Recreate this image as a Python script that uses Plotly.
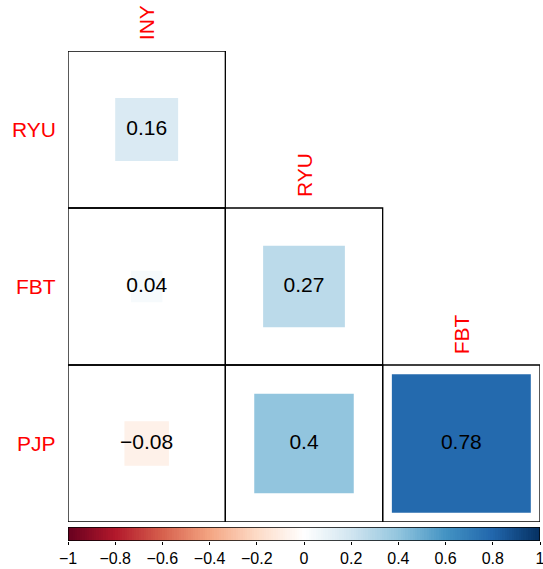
import plotly.graph_objects as go

# Lower-triangle correlation matrix (row variable vs column variable)
row_labels = ["RYU", "FBT", "PJP"]
col_labels = ["INY", "RYU", "FBT"]
corr_rows = [
    [0.16],
    [0.04, 0.27],
    [-0.08, 0.40, 0.78],
]
bar_ticks = [-1, -0.8, -0.6, -0.4, -0.2, 0, 0.2, 0.4, 0.6, 0.8, 1]

# Diverging red-blue palette from -1 to 1
palette = ["#67001F", "#B2182B", "#D6604D", "#F4A582", "#FDDBC7", "#FFFFFF",
           "#D1E5F0", "#92C5DE", "#4393C3", "#2166AC", "#053061"]

FONT = "Liberation Sans, Arial, Helvetica, sans-serif"
W, H = 543, 569


def hex_rgb(h):
    h = h.lstrip("#")
    return tuple(int(h[i:i + 2], 16) for i in (0, 2, 4))


def corr_color(r):
    t = (r + 1) / 2 * (len(palette) - 1)
    i = min(int(t), len(palette) - 2)
    f = t - i
    a, b = hex_rgb(palette[i]), hex_rgb(palette[i + 1])
    c = [round(a[k] + (b[k] - a[k]) * f) for k in range(3)]
    return f"rgb({c[0]},{c[1]},{c[2]})"


def fmt(v):
    s = f"{v:g}"
    return s.replace("-", "\u2212")


n = len(row_labels)
shapes = []
cx, cy, ctext = [], [], []
for i, row in enumerate(corr_rows):
    y0 = n - 1 - i
    for j, r in enumerate(row):
        x0 = j
        # cell outline
        shapes.append(dict(type="rect", xref="x", yref="y", x0=x0, x1=x0 + 1,
                           y0=y0, y1=y0 + 1, line=dict(color="black", width=1.3),
                           fillcolor="rgba(0,0,0,0)", layer="above"))
        # square with side proportional to sqrt(|r|)
        half = abs(r) ** 0.5 / 2
        shapes.append(dict(type="rect", xref="x", yref="y",
                           x0=x0 + 0.5 - half, x1=x0 + 0.5 + half,
                           y0=y0 + 0.5 - half, y1=y0 + 0.5 + half,
                           line=dict(width=0), fillcolor=corr_color(r), layer="below"))
        cx.append(x0 + 0.5)
        cy.append(y0 + 0.5)
        ctext.append(fmt(r))

fig = go.Figure()
fig.add_trace(go.Scatter(x=cx, y=cy, text=ctext, mode="text",
                         textfont=dict(size=21, color="black", family=FONT),
                         hoverinfo="skip", showlegend=False))

# colour legend bar
steps = 200
zvals = [-1 + (k + 0.5) * 2 / steps for k in range(steps)]
cscale = [[k / (len(palette) - 1), c] for k, c in enumerate(palette)]
fig.add_trace(go.Heatmap(z=[zvals], x0=-1 + 1 / steps, dx=2 / steps, y0=0.5, dy=1,
                         colorscale=cscale, zmin=-1, zmax=1, showscale=False,
                         xaxis="x2", yaxis="y2", hoverinfo="skip"))
shapes.append(dict(type="rect", xref="x2", yref="y2", x0=-1, x1=1, y0=0, y1=1,
                   line=dict(color="black", width=1.3), layer="above"))

annotations = []
for i, lab in enumerate(row_labels):
    annotations.append(dict(text=lab, xref="paper", yref="y", x=68 / W,
                            y=n - 1 - i + 0.5, xanchor="right", yanchor="middle",
                            xshift=-10, showarrow=False,
                            font=dict(size=21, color="red", family=FONT)))
for j, lab in enumerate(col_labels):
    annotations.append(dict(text=lab, xref="x", yref="y", x=j + 0.5, y=n - j,
                            xanchor="center", yanchor="bottom", yshift=9,
                            textangle=-90, showarrow=False,
                            font=dict(size=21, color="red", family=FONT)))

x_dom = [68 / W, 540 / W]
fig.update_layout(
    width=W, height=H, margin=dict(l=0, r=0, t=0, b=0, autoexpand=False),
    paper_bgcolor="white", plot_bgcolor="white",
    shapes=shapes, annotations=annotations, showlegend=False,
    xaxis=dict(domain=x_dom, range=[0, n], visible=False, fixedrange=True,
               automargin=False),
    yaxis=dict(domain=[(H - 522) / H, (H - 51) / H], range=[0, n],
               visible=False, fixedrange=True, automargin=False),
    xaxis2=dict(domain=x_dom, range=[-1, 1], anchor="y2", automargin=False,
                tickvals=bar_ticks, ticktext=[fmt(t) for t in bar_ticks],
                ticks="outside", ticklen=3, tickcolor="black",
                ticklabeloverflow="allow",
                tickfont=dict(size=16, color="black", family=FONT),
                showgrid=False, zeroline=False, showline=False, fixedrange=True),
    yaxis2=dict(domain=[(H - 541) / H, (H - 527) / H], range=[0, 1],
                anchor="x2", visible=False, automargin=False, fixedrange=True),
)

fig.write_html("out.html")
